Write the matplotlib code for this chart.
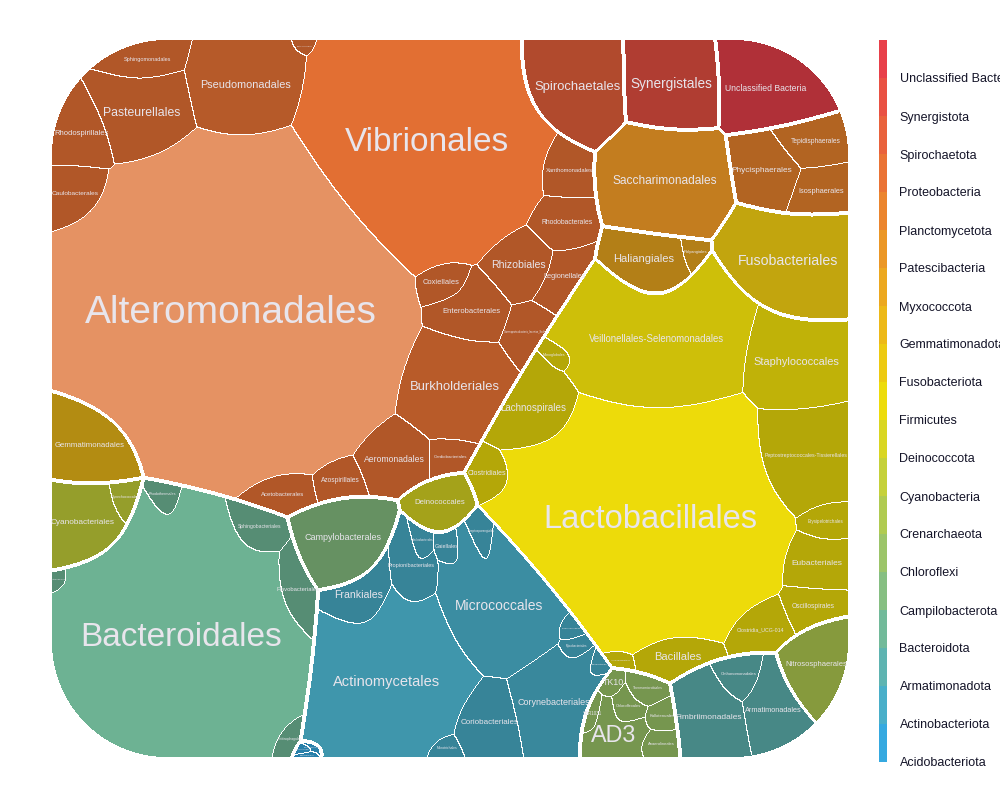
import numpy as np
import matplotlib
matplotlib.use("Agg")
import matplotlib.pyplot as plt
from matplotlib.colors import LinearSegmentedColormap, to_rgb

# phyla, in legend order (top -> bottom)
phyla = ["Unclassified Bacteria", "Synergistota", "Spirochaetota", "Proteobacteria",
         "Planctomycetota", "Patescibacteria", "Myxococcota", "Gemmatimonadota",
         "Fusobacteriota", "Firmicutes", "Deinococcota", "Cyanobacteria",
         "Crenarchaeota", "Chloroflexi", "Campilobacterota", "Bacteroidota",
         "Armatimonadota", "Actinobacteriota", "Acidobacteriota"]

orders = {
    "Unclassified Bacteria": ["Unclassified Bacteria"],
    "Synergistota": ["Synergistales"],
    "Spirochaetota": ["Spirochaetales"],
    "Proteobacteria": ["Alteromonadales", "Vibrionales", "Pseudomonadales", "Pasteurellales",
                       "Sphingomonadales", "Rhodospirillales", "Caulobacterales", "Methylococcales",
                       "Xanthomonadales", "Rhodobacterales", "Rhizobiales", "Legionellales",
                       "Coxiellales", "Enterobacterales", "Gammaproteobacteria_Incertae_Sedis",
                       "Burkholderiales", "Aeromonadales", "Cardiobacteriales", "Azospirillales",
                       "Acetobacterales"],
    "Planctomycetota": ["Phycisphaerales", "Tepidisphaerales", "Isosphaerales"],
    "Patescibacteria": ["Saccharimonadales"],
    "Myxococcota": ["Haliangiales", "Polyangiales"],
    "Gemmatimonadota": ["Gemmatimonadales"],
    "Fusobacteriota": ["Fusobacteriales"],
    "Firmicutes": ["Lactobacillales", "Veillonellales-Selenomonadales", "Staphylococcales",
                   "Lachnospirales", "Clostridiales", "Monoglobales",
                   "Peptostreptococcales-Tissierellales", "Erysipelotrichales", "Eubacteriales",
                   "Oscillospirales", "Clostridia_UCG-014", "Bacillales", "Acholeplasmatales"],
    "Deinococcota": ["Deinococcales"],
    "Cyanobacteria": ["Cyanobacteriales", "Synechococcales"],
    "Crenarchaeota": ["Nitrososphaerales"],
    "Chloroflexi": ["AD3", "TK10", "Thermomicrobiales", "Chloroflexales", "Kallotenuales",
                    "Anaerolineales", "SBR1031"],
    "Campilobacterota": ["Campylobacterales"],
    "Bacteroidota": ["Bacteroidales", "Sphingobacteriales", "Flavobacteriales", "Rhodothermales",
                     "Cytophagales", "Chitinophagales"],
    "Armatimonadota": ["Fimbriimonadales", "Armatimonadales", "Chthonomonadales"],
    "Actinobacteriota": ["Actinomycetales", "Micrococcales", "Corynebacteriales", "Coriobacteriales",
                         "Frankiales", "Propionibacteriales", "Solirubrobacterales", "Gaiellales",
                         "Streptosporangiales", "Pseudonocardiales", "Mycobacteriales",
                         "Bifidobacteriales", "Microtrichales"],
    "Acidobacteriota": ["Acidobacteriales", "Vicinamibacterales", "Blastocatellales"],
}

abundance = {
    "Unclassified Bacteria": [9],
    "Synergistota": [9],
    "Spirochaetota": [10],
    "Proteobacteria": [110, 50, 11, 8, 3, 4, 3, 0.3, 3, 3.5, 4, 2.5, 1.8, 4.5, 2.5, 11, 5, 1.6, 2, 2.5],
    "Planctomycetota": [5, 3.3, 2.8],
    "Patescibacteria": [15],
    "Myxococcota": [5, 0.8],
    "Gemmatimonadota": [6.5],
    "Fusobacteriota": [13.5],
    "Firmicutes": [62, 25, 10, 6, 2, 0.7, 9, 1.7, 3.5, 2.5, 3, 3, 0.5],
    "Deinococcota": [3.5],
    "Cyanobacteria": [5.5, 1],
    "Crenarchaeota": [5.2],
    "Chloroflexi": [2.8, 0.6, 1.2, 0.9, 0.9, 1, 0.5],
    "Campilobacterota": [8],
    "Bacteroidota": [57, 2.5, 2.5, 1, 0.3, 0.8],
    "Armatimonadota": [6, 4.5, 1.8],
    "Actinobacteriota": [24, 14, 8, 4.5, 3.2, 3, 0.7, 0.8, 1, 0.5, 0.6, 0.4, 0.6],
    "Acidobacteriota": [0.15, 0.15, 0.1],
}

# layout hints: starting site of each cell (figure pixels)
seed_xy = {
    "Unclassified Bacteria": (775, 85), "Synergistales": (675, 88), "Spirochaetales": (568, 92),
    "Alteromonadales": (235, 325), "Vibrionales": (440, 150), "Pseudomonadales": (240, 90),
    "Pasteurellales": (140, 112), "Sphingomonadales": (140, 60), "Rhodospirillales": (78, 135),
    "Caulobacterales": (75, 192), "Methylococcales": (302, 44), "Xanthomonadales": (570, 172),
    "Rhodobacterales": (567, 228), "Rhizobiales": (528, 270), "Legionellales": (578, 292),
    "Coxiellales": (452, 285), "Enterobacterales": (478, 312),
    "Gammaproteobacteria_Incertae_Sedis": (545, 335), "Burkholderiales": (467, 392),
    "Aeromonadales": (400, 470), "Cardiobacteriales": (457, 468), "Azospirillales": (340, 492),
    "Acetobacterales": (283, 507),
    "Phycisphaerales": (765, 182), "Tepidisphaerales": (815, 140), "Isosphaerales": (822, 202),
    "Saccharimonadales": (668, 195), "Haliangiales": (650, 280), "Polyangiales": (705, 258),
    "Gemmatimonadales": (92, 455), "Fusobacteriales": (785, 275),
    "Lactobacillales": (650, 535), "Veillonellales-Selenomonadales": (655, 355),
    "Staphylococcales": (798, 372), "Lachnospirales": (545, 418), "Clostridiales": (497, 480),
    "Monoglobales": (566, 360), "Peptostreptococcales-Tissierellales": (805, 465),
    "Erysipelotrichales": (825, 524), "Eubacteriales": (818, 568), "Oscillospirales": (815, 612),
    "Clostridia_UCG-014": (760, 637), "Bacillales": (675, 667), "Acholeplasmatales": (622, 670),
    "Deinococcales": (440, 520), "Cyanobacteriales": (85, 530), "Synechococcales": (132, 505),
    "Nitrososphaerales": (815, 670),
    "AD3": (606, 744), "TK10": (609, 691), "Thermomicrobiales": (643, 694),
    "Chloroflexales": (622, 718), "Kallotenuales": (655, 721), "Anaerolineales": (650, 748),
    "SBR1031": (589, 726),
    "Campylobacterales": (352, 552),
    "Bacteroidales": (190, 650), "Sphingobacteriales": (257, 537), "Flavobacteriales": (313, 595),
    "Rhodothermales": (168, 512), "Cytophagales": (58, 580), "Chitinophagales": (300, 742),
    "Fimbriimonadales": (705, 720), "Armatimonadales": (782, 707), "Chthonomonadales": (740, 682),
    "Actinomycetales": (392, 697), "Micrococcales": (497, 627), "Corynebacteriales": (555, 714),
    "Coriobacteriales": (485, 729), "Frankiales": (362, 614), "Propionibacteriales": (413, 594),
    "Solirubrobacterales": (422, 557), "Gaiellales": (453, 561), "Streptosporangiales": (486, 558),
    "Pseudonocardiales": (568, 632), "Mycobacteriales": (571, 654), "Bifidobacteriales": (594, 673),
    "Microtrichales": (443, 751),
    "Acidobacteriales": (310, 750), "Vicinamibacterales": (322, 748), "Blastocatellales": (316, 756),
}

# shading of cells relative to the phylum colour
shade = {"Vibrionales": 0.97, "Burkholderiales": 0.79, "Pseudomonadales": 0.78,
         "Lactobacillales": 1.0, "Veillonellales-Selenomonadales": 0.87, "Staphylococcales": 0.81,
         "Bacteroidales": 0.96, "Actinomycetales": 0.86, "Micrococcales": 0.81,
         "Corynebacteriales": 0.78, "Saccharimonadales": 0.83, "Fusobacteriales": 0.82}
color_override = {"Alteromonadales": "#E59263"}
label_pt = {"Alteromonadales": 28, "Actinomycetales": 10.5, "Micrococcales": 10,
            "Corynebacteriales": 6.5}

W, H = 1000, 800
X0, X1, Y0, Y1, RAD = 52, 848, 40, 757, 115
FONT = ["Liberation Sans", "DejaVu Sans"]
LABEL_COLOR = "#E8E5EC"

cmap = LinearSegmentedColormap.from_list("phy", ["#E8404A", "#EEDC0A", "#35A9E0"])
phylum_color = {p: np.array(to_rgb(cmap(i / (len(phyla) - 1)))) for i, p in enumerate(phyla)}


def weighted_voronoi(px, py, sites, targets, iters=250):
    k = len(sites)
    if k == 1:
        return np.zeros(len(px), int)
    d = np.empty((len(px), k), np.float32)
    for i, (sx, sy) in enumerate(sites):
        d[:, i] = np.sqrt((px - sx) ** 2 + (py - sy) ** 2)
    t = np.asarray(targets, float)
    t = t / t.sum() * len(px)
    w = np.zeros(k, np.float32)
    for it in range(iters):
        lab = np.argmin(d - w, axis=1)
        area = np.bincount(lab, minlength=k)
        gain = 0.8 if it < iters // 2 else 0.4
        w += (gain * (np.sqrt(t / np.pi) - np.sqrt(area / np.pi))).astype(np.float32)
    return np.argmin(d - w, axis=1)


# domain: rounded rectangle
gx, gy = np.meshgrid(np.arange(X0, X1, dtype=np.float32) + 0.5,
                     np.arange(Y0, Y1, dtype=np.float32) + 0.5)
cx = np.clip(gx, X0 + RAD, X1 - RAD)
cy = np.clip(gy, Y0 + RAD, Y1 - RAD)
inside = (gx - cx) ** 2 + (gy - cy) ** 2 <= RAD ** 2
px, py = gx[inside], gy[inside]

# level 1: phyla
phy_sites, phy_tot = [], []
for p in phyla:
    a = np.array(abundance[p], float)
    xy = np.array([seed_xy[o] for o in orders[p]], float)
    phy_sites.append((a[:, None] * xy).sum(0) / a.sum())
    phy_tot.append(a.sum())
plab = weighted_voronoi(px, py, phy_sites, phy_tot)

# level 2: orders inside each phylum
all_orders, order_col = [], []
olab = np.full(len(px), -1)
for pi, p in enumerate(phyla):
    sel = np.where(plab == pi)[0]
    sub = weighted_voronoi(px[sel], py[sel], [seed_xy[o] for o in orders[p]], abundance[p], iters=200)
    base = phylum_color[p]
    for j, o in enumerate(orders[p]):
        olab[sel[sub == j]] = len(all_orders)
        all_orders.append(o)
        if o in color_override:
            order_col.append(np.array(to_rgb(color_override[o])))
        else:
            order_col.append(base * shade.get(o, 0.76))

P = np.full(gx.shape, -1)
P[inside] = plab
O = np.full(gx.shape, -1)
O[inside] = olab

img = np.ones(gx.shape + (3,))
cols = np.array(order_col)
img[inside] = cols[olab]

# thin order borders (1 px)
e1 = np.zeros(gx.shape, bool)
e1[:, :-1] |= (O[:, :-1] != O[:, 1:]) & (O[:, :-1] >= 0) & (O[:, 1:] >= 0)
e1[:-1, :] |= (O[:-1, :] != O[1:, :]) & (O[:-1, :] >= 0) & (O[1:, :] >= 0)
# thick phylum borders
r = 2
hh, ww = P.shape
pad = np.pad(P, r, constant_values=-1)
e2 = np.zeros(gx.shape, bool)
for dy in range(-r, r + 1):
    for dx in range(-r, r + 1):
        if dx * dx + dy * dy > r * r:
            continue
        nb = pad[r + dy:r + dy + hh, r + dx:r + dx + ww]
        e2 |= (nb != P) & (nb >= 0) & (P >= 0)
img[e1 | e2] = 1.0

fig = plt.figure(figsize=(W / 100, H / 100), dpi=100)
ax = fig.add_axes([0, 0, 1, 1])
ax.imshow(img, extent=(X0, X1, Y1, Y0), interpolation="nearest")
ax.set_xlim(0, W)
ax.set_ylim(H, 0)
ax.axis("off")

renderer = fig.canvas.get_renderer()
for j, o in enumerate(all_orders):
    m = olab == j
    n = m.sum()
    if n == 0:
        continue
    t = ax.text(px[m].mean(), py[m].mean(), o, ha="center", va="center",
                fontsize=10, color=LABEL_COLOR, family=FONT)
    if o in label_pt:
        t.set_fontsize(label_pt[o])
        continue
    bw = t.get_window_extent(renderer=renderer).width
    fs = 10 * 0.9 * np.sqrt(n) / bw
    t.set_fontsize(float(np.clip(fs, 1.5, 24)))

# legend bar
cax = fig.add_axes([879 / W, 1 - 762 / H, 8 / W, 722 / H])
cax.barh(np.arange(len(phyla)) + 0.5, 1, height=1.0,
         color=[phylum_color[p] for p in phyla], linewidth=0)
cax.set_ylim(len(phyla), 0)
cax.set_xlim(0, 1)
cax.set_xticks([])
cax.yaxis.tick_right()
cax.set_yticks(np.arange(len(phyla)) + 1)
cax.set_yticklabels(phyla, fontsize=9, family=FONT, color="#141428")
cax.tick_params(axis="y", length=0, pad=9)
for s in cax.spines.values():
    s.set_visible(False)

fig.savefig("out.png", dpi=100, facecolor="white")
